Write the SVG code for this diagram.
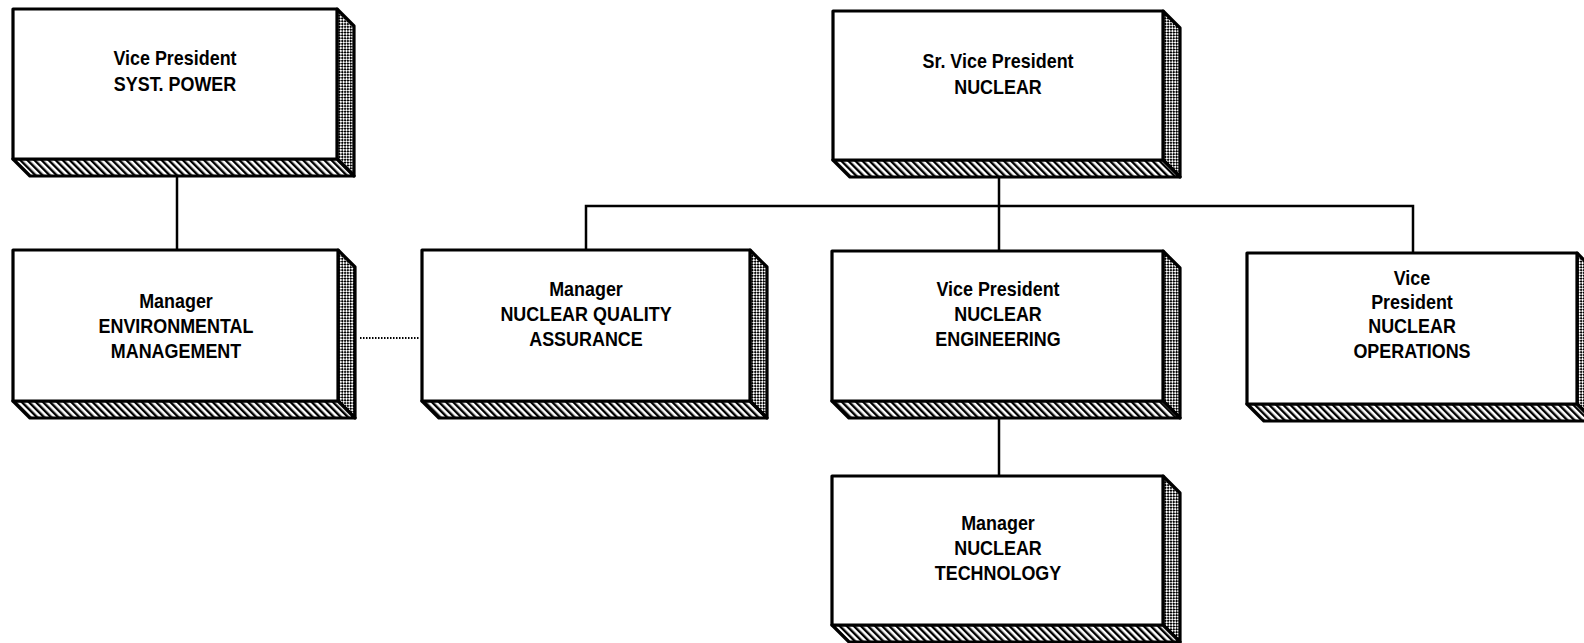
<svg xmlns="http://www.w3.org/2000/svg" width="1584" height="643" viewBox="0 0 1584 643">
  <defs>
    <!-- diagonal hatching on the bottom bevel -->
    <pattern id="hatch" width="5" height="5" patternUnits="userSpaceOnUse" patternTransform="rotate(-45)">
      <rect width="5" height="5" fill="#fff"/>
      <rect x="0" y="0" width="2.4" height="5" fill="#000"/>
    </pattern>
    <!-- fine checker texture on the right side -->
    <pattern id="checker" width="4" height="4" patternUnits="userSpaceOnUse" patternTransform="rotate(45)">
      <rect width="4" height="4" fill="#fff"/>
      <rect x="0" y="0" width="2" height="2" fill="#000"/>
      <rect x="2" y="2" width="2" height="2" fill="#000"/>
    </pattern>
  </defs>
  <style>
    .face { fill: #fff; stroke: #000; stroke-width: 3.2; stroke-linejoin: round; }
    .side { fill: url(#checker); stroke: #000; stroke-width: 3.2; stroke-linejoin: round; }
    .bevel { fill: url(#hatch); stroke: #000; stroke-width: 3.2; stroke-linejoin: round; }
    .label { font-family: "Liberation Sans", Arial, sans-serif; font-weight: bold; font-size: 19.5px; text-anchor: middle; fill: #000;
             transform-box: fill-box; transform-origin: center; transform: scaleX(0.92); }
    .line { stroke: #000; stroke-width: 2.5; fill: none; }
    .dotted { stroke: #000; stroke-width: 2; fill: none; stroke-dasharray: 1.5 1.5; }
  </style>

  <rect width="1584" height="643" fill="#fff"/>

  <!-- connectors -->
  <g id="connectors">
    <line class="line" x1="177" y1="176" x2="177" y2="250"/>
    <line class="dotted" x1="360" y1="338" x2="420" y2="338"/>
    <line class="line" x1="999" y1="176" x2="999" y2="251"/>
    <polyline class="line" points="586,250 586,206 1413,206 1413,253"/>
    <line class="line" x1="999" y1="418" x2="999" y2="476"/>
  </g>

  <!-- VP System Power -->
  <g id="vp-syst-power">
    <polygon class="side" points="337,9 354,26 354,176 337,159"/>
    <polygon class="bevel" points="13,159 337,159 354,176 30,176"/>
    <rect class="face" x="13" y="9" width="324" height="150"/>
    <text class="label" x="175" y="65">Vice President</text>
    <text class="label" x="175" y="91">SYST. POWER</text>
  </g>

  <!-- Manager Environmental Management -->
  <g id="mgr-environmental">
    <polygon class="side" points="338,250 355,267 355,418 338,401"/>
    <polygon class="bevel" points="13,401 338,401 355,418 30,418"/>
    <rect class="face" x="13" y="250" width="325" height="151"/>
    <text class="label" x="176" y="308">Manager</text>
    <text class="label" x="176" y="333">ENVIRONMENTAL</text>
    <text class="label" x="176" y="358">MANAGEMENT</text>
  </g>

  <!-- Manager Nuclear Quality Assurance -->
  <g id="mgr-nqa">
    <polygon class="side" points="750,250 767,267 767,418 750,401"/>
    <polygon class="bevel" points="422,401 750,401 767,418 439,418"/>
    <rect class="face" x="422" y="250" width="328" height="151"/>
    <text class="label" x="586" y="296">Manager</text>
    <text class="label" x="586" y="321">NUCLEAR QUALITY</text>
    <text class="label" x="586" y="346">ASSURANCE</text>
  </g>

  <!-- Sr. VP Nuclear -->
  <g id="svp-nuclear">
    <polygon class="side" points="1163,11 1180,28 1180,177 1163,160"/>
    <polygon class="bevel" points="833,160 1163,160 1180,177 850,177"/>
    <rect class="face" x="833" y="11" width="330" height="149"/>
    <text class="label" x="998" y="68">Sr. Vice President</text>
    <text class="label" x="998" y="94">NUCLEAR</text>
  </g>

  <!-- VP Nuclear Engineering -->
  <g id="vp-nuclear-engineering">
    <polygon class="side" points="1163,251 1180,268 1180,418 1163,401"/>
    <polygon class="bevel" points="832,401 1163,401 1180,418 849,418"/>
    <rect class="face" x="832" y="251" width="331" height="150"/>
    <text class="label" x="998" y="296">Vice President</text>
    <text class="label" x="998" y="321">NUCLEAR</text>
    <text class="label" x="998" y="346">ENGINEERING</text>
  </g>

  <!-- VP Nuclear Operations -->
  <g id="vp-nuclear-operations">
    <polygon class="side" points="1577,253 1594,270 1594,421 1577,404"/>
    <polygon class="bevel" points="1247,404 1577,404 1594,421 1264,421"/>
    <rect class="face" x="1247" y="253" width="330" height="151"/>
    <text class="label" x="1412" y="285">Vice</text>
    <text class="label" x="1412" y="309">President</text>
    <text class="label" x="1412" y="333">NUCLEAR</text>
    <text class="label" x="1412" y="358">OPERATIONS</text>
  </g>

  <!-- Manager Nuclear Technology -->
  <g id="mgr-nuclear-technology">
    <polygon class="side" points="1163,476 1180,493 1180,642 1163,625"/>
    <polygon class="bevel" points="832,625 1163,625 1180,642 849,642"/>
    <rect class="face" x="832" y="476" width="331" height="149"/>
    <text class="label" x="998" y="530">Manager</text>
    <text class="label" x="998" y="555">NUCLEAR</text>
    <text class="label" x="998" y="580">TECHNOLOGY</text>
  </g>
</svg>
